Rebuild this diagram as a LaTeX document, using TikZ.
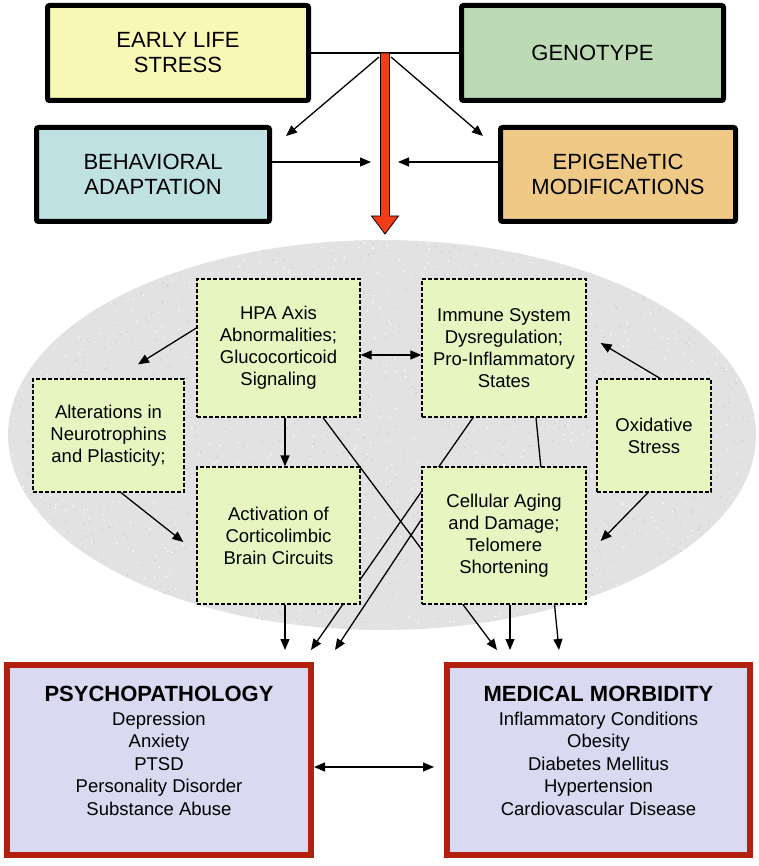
\documentclass[tikz,border=0pt]{standalone}
\usepackage{fontspec}
\setmainfont{Liberation Sans}
\usetikzlibrary{arrows.meta,shadows,calc}
\pgfdeclarelayer{back}
\pgfdeclarelayer{mid}
\pgfsetlayers{back,mid,main}
\definecolor{elsc}{HTML}{F8F8B4}
\definecolor{genc}{HTML}{BCDAB4}
\definecolor{behc}{HTML}{BFE1E2}
\definecolor{epic}{HTML}{EFC986}
\definecolor{midc}{HTML}{E6F6C1}
\definecolor{botc}{HTML}{D9D9F1}
\definecolor{botb}{HTML}{B3200F}
\definecolor{redarr}{HTML}{F23C18}
\definecolor{ellc}{HTML}{E2E2E2}
\begin{document}
\begin{tikzpicture}[x=1pt,y=-1pt,
  topbox/.style={draw=black, line width=5pt, rounded corners=2pt, align=center,
    font=\fontsize{22}{25}\selectfont,
    drop shadow={shadow xshift=2pt,shadow yshift=-2pt,opacity=0.3}},
  midbox/.style={draw=black, line width=1.3pt, dash pattern=on 4pt off 2pt,
    fill=midc, align=center, font=\fontsize{18.5}{22}\selectfont},
  botbox/.style={draw=botb, line width=6pt, fill=botc,
    drop shadow={shadow xshift=2pt,shadow yshift=-2pt,opacity=0.3}},
  bottxt/.style={align=center, font=\fontsize{18.5}{22.5}\selectfont},
  arr/.style={line width=1.3pt, -{Triangle[length=11pt,width=9pt]}},
  darr/.style={line width=1.3pt, {Triangle[length=11pt,width=9pt]}-{Triangle[length=11pt,width=9pt]}},
  ln/.style={line width=1.3pt},
]
\useasboundingbox (0,0) rectangle (758,866);

% ellipse background
\begin{pgfonlayer}{back}
\begin{scope}
\clip (382,435) ellipse [x radius=374pt, y radius=195pt];
\fill[ellc] (0,230) rectangle (758,640);
\pgfmathsetseed{7}
\foreach \i in {1,...,1400}{
  \fill[gray!42] ({382+374*rand},{435+195*rand}) circle (0.7pt);
}
\foreach \i in {1,...,700}{
  \fill[white] ({382+374*rand},{435+195*rand}) circle (0.8pt);
}
\end{scope}
\end{pgfonlayer}

% top boxes
\node[topbox, fill=elsc, minimum width=261pt, minimum height=95pt] (els) at (178,53) {EARLY LIFE\\STRESS};
\node[topbox, fill=genc, minimum width=262pt, minimum height=95pt] (gen) at (592.5,53) {GENOTYPE};
\node[topbox, fill=behc, minimum width=233pt, minimum height=94pt] (beh) at (153,174.5) {BEHAVIORAL\\ADAPTATION};
\node[topbox, fill=epic, minimum width=235pt, minimum height=94pt] (epi) at (618,174.5) {EPIGENeTIC\\MODIFICATIONS};

\coordinate (hub) at (385,53);
\coordinate (tip) at (385,234);
\coordinate (bin) at (371,162);
\coordinate (ein) at (398,162);

\draw[line width=1.2pt] (els.east) -- (gen.west);
\draw[arr] ($(hub)+(-6,4)$) -- ($(beh.north east)+(14,11)$);
\draw[arr] ($(hub)+(6,4)$) -- ($(epi.north west)+(-15,11)$);
\draw[arr] ($(beh.east)+(0,-12.5)$) -- (bin);
\draw[arr] ($(epi.west)+(0,-12.5)$) -- (ein);
\filldraw[fill=redarr, draw=black, line width=0.8pt]
  ($(hub)+(-4.5,0)$) -- ($(tip)+(-4.5,-18)$) -- ($(tip)+(-13.5,-18)$) -- (tip)
  -- ($(tip)+(13.5,-18)$) -- ($(tip)+(4.5,-18)$) -- ($(hub)+(4.5,0)$) -- cycle;

% middle boxes
\node[midbox, minimum width=163pt, minimum height=138pt] (hpa) at (278.5,348) {HPA Axis\\Abnormalities;\\Glucocorticoid\\Signaling};
\node[midbox, minimum width=164pt, minimum height=138pt] (imm) at (504,348) {Immune System\\Dysregulation;\\Pro-Inflammatory\\States};
\node[midbox, minimum width=151pt, minimum height=113pt] (alt) at (108.5,435.5) {Alterations in\\Neurotrophins\\and Plasticity;};
\node[midbox, minimum width=114pt, minimum height=113pt] (oxi) at (654,435.5) {Oxidative\\Stress};
\node[midbox, minimum width=163pt, minimum height=137pt] (act) at (278.5,535.5) {Activation of\\Corticolimbic\\Brain Circuits};
\node[midbox, minimum width=164pt, minimum height=137pt] (cel) at (504,535.5) {Cellular Aging\\and Damage;\\Telomere\\Shortening};

% bottom boxes
\node[botbox, minimum width=304pt, minimum height=190pt] (psy) at (159,760) {};
\node[botbox, minimum width=303pt, minimum height=190pt] (med) at (598.5,760) {};
\node[bottxt] (psytxt) at (159,751) {{\bfseries\fontsize{22}{25}\selectfont PSYCHOPATHOLOGY}\\[1pt]Depression\\Anxiety\\PTSD\\Personality Disorder\\Substance Abuse};
\node[bottxt] (medtxt) at (598.5,751) {{\bfseries\fontsize{22}{25}\selectfont MEDICAL MORBIDITY}\\[1pt]Inflammatory Conditions\\Obesity\\Diabetes Mellitus\\Hypertension\\Cardiovascular Disease};

% hidden connectors (behind boxes)
\begin{pgfonlayer}{mid}
\draw[arr] ($(hpa.south)+(44.5,0)$) -- ($(med.north)+(-101.5,-12)$);
\draw[arr] ($(imm.south)+(-31,0)$) -- ($(psy.north)+(152,-12)$);
\draw[arr] ($(imm.south)+(32,0)$) -- ($(med.north)+(-39.5,-12)$);
\draw[arr] ($(cel.west)+(8,-28)$) -- ($(psy.north)+(176,-12)$);
\end{pgfonlayer}

% visible connectors
\draw[darr] ($(hpa.east)+(0,7)$) -- ($(imm.west)+(0,7)$);
\draw[arr] ($(hpa.west)+(0,-20)$) -- ($(alt.north)+(29.5,-14)$);
\draw[arr] ($(oxi.north)+(6,0)$) -- ($(imm.east)+(14,-5)$);
\draw[arr] ($(hpa.south)+(6.5,0)$) -- ($(act.north)+(6.5,0)$);
\draw[arr] ($(alt.south)+(12.5,0)$) -- ($(act.west)+(-13,6.5)$);
\draw[arr] ($(oxi.south)+(-6,0)$) -- ($(cel.east)+(14,5.5)$);
\draw[arr] ($(act.south)+(6.5,0)$) -- ($(psy.north)+(126,-12)$);
\draw[arr] ($(cel.south)+(6,0)$) -- ($(med.north)+(-88.5,-12)$);
\draw[darr] ($(psy.east)+(0,7)$) -- ($(med.west)+(-10,7)$);
\end{tikzpicture}
\end{document}
